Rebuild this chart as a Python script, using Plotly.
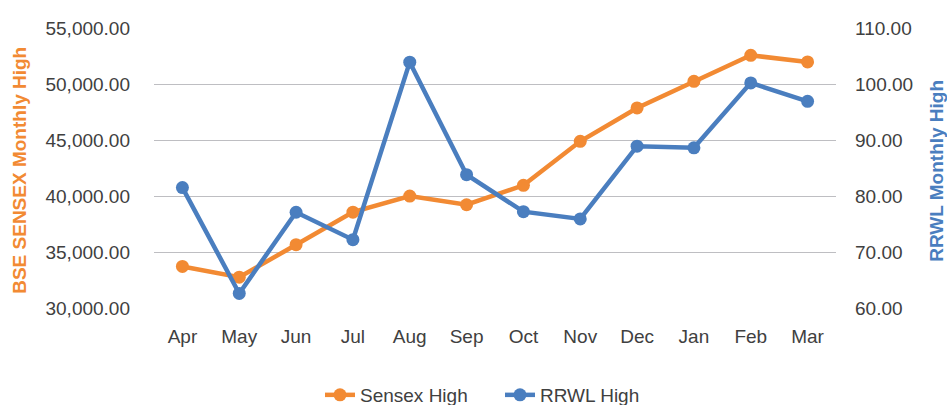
import plotly.graph_objects as go

months = ["Apr", "May", "Jun", "Jul", "Aug", "Sep", "Oct", "Nov", "Dec", "Jan", "Feb", "Mar"]
sensex_high = [33710, 32750, 35650, 38560, 39990, 39220, 40950, 44880, 47860, 50240, 52560, 51970]
rrwl_high = [81.5, 62.6, 77.1, 72.2, 103.9, 83.8, 77.2, 75.9, 88.9, 88.6, 100.2, 96.9]

ORANGE = "#F28A33"
BLUE = "#4A7EBF"
TEXT = "#404040"
GRID = "#BEBEC2"
FONT = "Liberation Sans, Arial, sans-serif"

L, R, T, B = 154, 111, 28, 97
W, H = 947, 405
pw = W - L - R

fig = go.Figure()
fig.add_trace(go.Scatter(
    x=months, y=sensex_high, name="Sensex High", mode="lines+markers",
    line=dict(color=ORANGE, width=4.5), marker=dict(color=ORANGE, size=13),
    yaxis="y"))
fig.add_trace(go.Scatter(
    x=months, y=rrwl_high, name="RRWL High", mode="lines+markers",
    line=dict(color=BLUE, width=4.5), marker=dict(color=BLUE, size=13),
    yaxis="y2"))

fig.update_layout(
    width=W, height=H,
    margin=dict(l=L, r=R, t=T, b=B, autoexpand=False),
    paper_bgcolor="white", plot_bgcolor="white",
    font=dict(family=FONT, size=19, color=TEXT),
    xaxis=dict(range=[-0.5, 11.5], showgrid=False, showline=False, zeroline=False,
               ticks="", ticklabelstandoff=15, automargin=False,
               tickfont=dict(size=19, color=TEXT)),
    yaxis=dict(range=[30000, 55000], dtick=5000, tickformat=",.2f",
               showgrid=True, gridcolor=GRID, gridwidth=1.4,
               zeroline=False, showline=False, ticks="", automargin=False,
               ticklabelstandoff=23,
               tickfont=dict(size=19, color=TEXT)),
    yaxis2=dict(range=[60, 110], dtick=10, tickformat=".2f",
                overlaying="y", side="right", automargin=False,
                showgrid=False, zeroline=False, showline=False, ticks="",
                ticklabelstandoff=18,
                tickfont=dict(size=19, color=TEXT)),
    legend=dict(orientation="h", x=(500 - L) / pw, xanchor="center",
                yref="container", y=1 - 395 / H, yanchor="middle",
                font=dict(size=19, color=TEXT),
                entrywidth=135, entrywidthmode="pixels",
                itemwidth=30, bgcolor="rgba(0,0,0,0)"),
    showlegend=True,
    annotations=[
        dict(text="<b>BSE SENSEX Monthly High</b>", textangle=-90,
             xref="paper", yref="paper", x=(20 - L) / pw, y=0.49,
             xanchor="center", yanchor="middle", showarrow=False,
             font=dict(size=19, color=ORANGE)),
        dict(text="<b>RRWL Monthly High</b>", textangle=-90,
             xref="paper", yref="paper", x=(937 - L) / pw, y=0.49,
             xanchor="center", yanchor="middle", showarrow=False,
             font=dict(size=19, color=BLUE)),
    ],
)

fig.write_html("out.html", config={"displayModeBar": False},
               post_script="document.body.style.margin='0';document.body.style.overflow='hidden';")
